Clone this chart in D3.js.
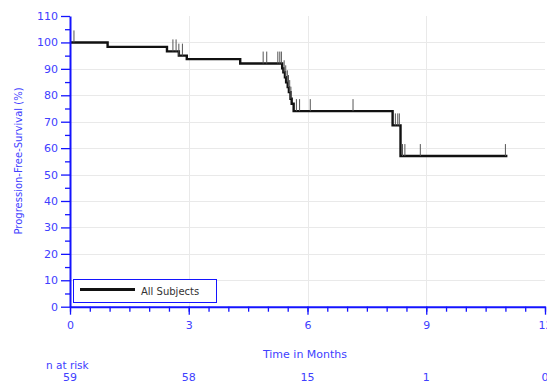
<!DOCTYPE html>
<html>
<head>
<meta charset="utf-8">
<script src="https://cdn.jsdelivr.net/npm/d3@7"></script>
<style>
  body { margin: 0; background: #fff; }
  svg { display: block; }
</style>
</head>
<body>
<svg id="chart" width="547" height="386"></svg>
<script>
// Kaplan-Meier estimate: event times (months) and survival (%) after each step
const eventTimes = [0, 0.95, 2.45, 2.75, 2.95, 4.3, 5.36, 5.39, 5.43, 5.46, 5.50, 5.53, 5.57, 5.60, 5.65, 8.15, 8.35];
const survival   = [100, 98.3, 96.6, 95.0, 93.7, 92.0, 90.2, 88.7, 86.8, 84.9, 83.1, 81.2, 78.7, 76.8, 74.0, 68.6, 57.0];
const lastFollowUp = 11.05;

// Censored observations (months)
const censorTimes = [0.1, 2.60, 2.68, 2.75, 2.84, 4.88, 4.97, 5.25, 5.30, 5.34,
                     5.41, 5.45, 5.49, 5.52, 5.55, 5.58, 5.72, 5.80, 6.07, 7.15,
                     8.22, 8.28, 8.32, 8.40, 8.46, 8.85, 11.0];

// Numbers at risk
const riskTimes = [0, 3, 6, 9, 12];
const nAtRisk   = [59, 58, 15, 1, 0];

const xTicks = [0, 3, 6, 9, 12];
const yTicks = [0, 10, 20, 30, 40, 50, 60, 70, 80, 90, 100, 110];
const seriesName = "All Subjects";

const blue = "#1414ff";
const textBlue = "#4040ff";
const font = "DejaVu Sans, Verdana, sans-serif";

const svg = d3.select("#chart");
const x = d3.scaleLinear().domain([0, 12]).range([70, 545]);
const y = d3.scaleLinear().domain([0, 110]).range([306.7, 16]);

// grid
svg.append("g").selectAll("line").data(yTicks.filter(v => v > 0 && v < 110)).join("line")
  .attr("x1", x(0)).attr("x2", x(12))
  .attr("y1", d => Math.round(y(d)) + 0.5).attr("y2", d => Math.round(y(d)) + 0.5)
  .attr("stroke", "#e9e9e9").attr("stroke-width", 1);
svg.append("g").selectAll("line").data(xTicks.filter(v => v > 0 && v < 12)).join("line")
  .attr("x1", d => Math.round(x(d)) + 0.5).attr("x2", d => Math.round(x(d)) + 0.5)
  .attr("y1", y(110)).attr("y2", y(0))
  .attr("stroke", "#e9e9e9").attr("stroke-width", 1);

// survival curve
const curve = eventTimes.map((t, i) => [t, survival[i]]);
curve.push([lastFollowUp, survival[survival.length - 1]]);
svg.append("path")
  .datum(curve)
  .attr("fill", "none")
  .attr("stroke", "#111")
  .attr("stroke-width", 2.4)
  .attr("d", d3.line().x(d => x(d[0])).y(d => y(d[1])).curve(d3.curveStepAfter));

// censor marks
const bis = d3.bisector(d => d).right;
const survAt = t => survival[Math.max(0, bis(eventTimes, t) - 1)];
svg.append("g").selectAll("line").data(censorTimes).join("line")
  .attr("x1", d => x(d)).attr("x2", d => x(d))
  .attr("y1", d => y(survAt(d))).attr("y2", d => y(survAt(d)) - 12)
  .attr("stroke", "#555").attr("stroke-width", 1);

// legend
const lg = svg.append("g");
lg.append("rect").attr("x", 73.5).attr("y", 279.5).attr("width", 143).attr("height", 23)
  .attr("fill", "#fff").attr("stroke", blue).attr("stroke-width", 1);
lg.append("line").attr("x1", 80).attr("x2", 135).attr("y1", 289.5).attr("y2", 289.5)
  .attr("stroke", "#111").attr("stroke-width", 3);
lg.append("text").attr("x", 141).attr("y", 294.5).text(seriesName)
  .attr("font-family", font).attr("font-size", 10).attr("fill", "#333");

// axes
function styleAxis(g) {
  g.selectAll("line").attr("stroke", blue).attr("stroke-width", 1.3);
  g.selectAll("path").attr("stroke", blue).attr("stroke-width", 2);
  g.selectAll("text").attr("fill", textBlue).attr("font-family", font).attr("font-size", 11);
}
// minor ticks
svg.append("g").attr("transform", `translate(0,${y(0)})`)
  .call(d3.axisBottom(x).tickValues(d3.range(0, 12.01, 0.5)).tickSize(5).tickFormat(""))
  .call(g => g.select(".domain").remove()).call(styleAxis);
svg.append("g").attr("transform", `translate(${x(0)},0)`)
  .call(d3.axisLeft(y).tickValues(d3.range(5, 110, 10)).tickSize(5).tickFormat(""))
  .call(g => g.select(".domain").remove()).call(styleAxis);
// major ticks
svg.append("g").attr("transform", `translate(0,${y(0)})`)
  .call(d3.axisBottom(x).tickValues(xTicks).tickSize(8).tickSizeOuter(0).tickPadding(7).tickFormat(d3.format("d")))
  .call(styleAxis);
svg.append("g").attr("transform", `translate(${x(0)},0)`)
  .call(d3.axisLeft(y).tickValues(yTicks).tickSize(9).tickSizeOuter(0).tickPadding(3).tickFormat(d3.format("d")))
  .call(styleAxis);

// axis titles
svg.append("text").attr("x", 305).attr("y", 357.5).attr("text-anchor", "middle")
  .attr("font-family", font).attr("font-size", 11).attr("fill", textBlue).text("Time in Months");
svg.append("text").attr("transform", "translate(21.5,161) rotate(-90)").attr("text-anchor", "middle")
  .attr("font-family", font).attr("font-size", 10).attr("fill", textBlue).text("Progression-Free-Survival (%)");

// risk table
svg.append("text").attr("x", 46).attr("y", 369).attr("font-family", font).attr("font-size", 10.5)
  .attr("fill", textBlue).text("n at risk");
svg.append("g").selectAll("text").data(riskTimes).join("text")
  .attr("x", d => x(d)).attr("y", 381).attr("text-anchor", "middle")
  .attr("font-family", font).attr("font-size", 11).attr("fill", textBlue)
  .text((d, i) => nAtRisk[i]);
</script>
</body>
</html>
